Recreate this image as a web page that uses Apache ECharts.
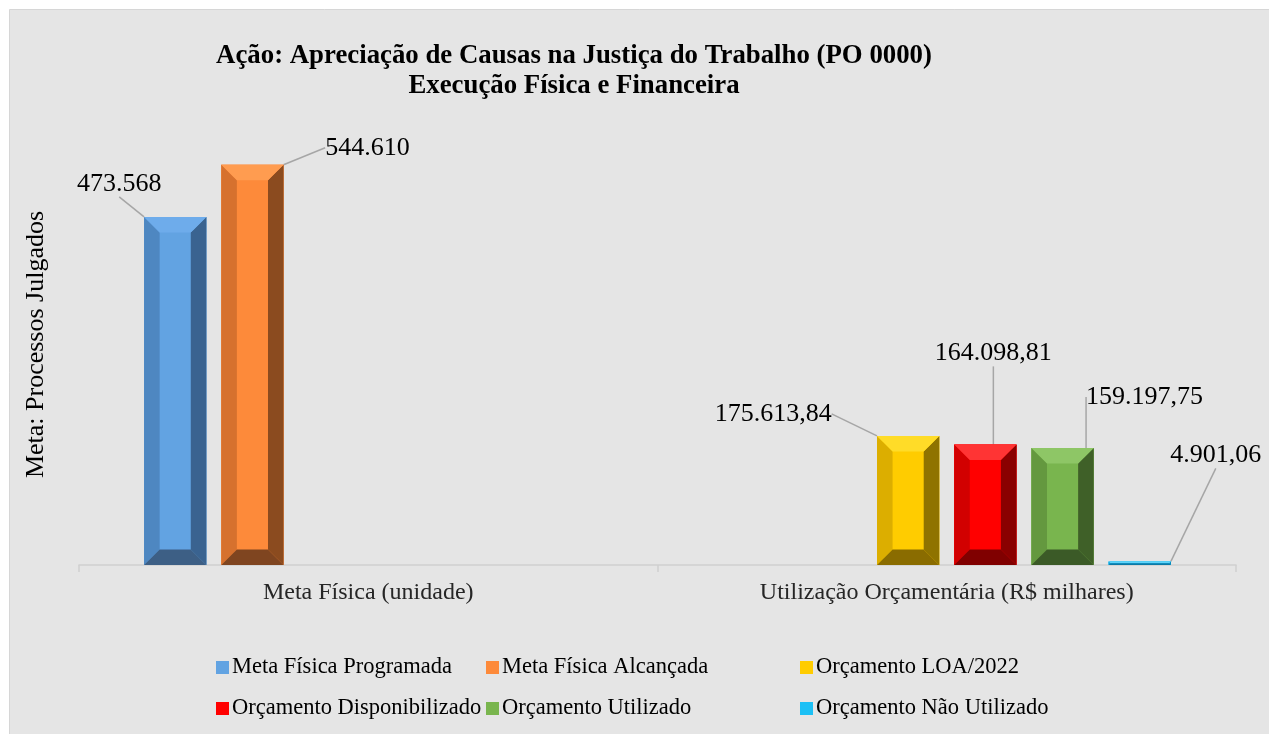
<!DOCTYPE html>
<html>
<head>
<meta charset="utf-8">
<script src="https://cdn.jsdelivr.net/npm/echarts@6/dist/echarts.min.js"></script>
<style>
  html, body { margin: 0; padding: 0; background: #fff; }
  #chart { width: 1269px; height: 734px; }
</style>
</head>
<body>
<div id="chart"></div>
<script>
// dados
const categories = ['Meta Física (unidade)', 'Utilização Orçamentária (R$ milhares)']
const seriesNames = [
  'Meta Física Programada', 'Meta Física Alcançada', 'Orçamento LOA/2022',
  'Orçamento Disponibilizado', 'Orçamento Utilizado', 'Orçamento Não Utilizado'
]
const metaProgramada = [473568, null]
const metaAlcancada = [544610, null]
const orcLoa = [null, 175613.84]
const orcDisponibilizado = [null, 164098.81]
const orcUtilizado = [null, 159197.75]
const orcNaoUtilizado = [null, 4901.06]
const seriesValues = [metaProgramada, metaAlcancada, orcLoa, orcDisponibilizado, orcUtilizado, orcNaoUtilizado]
const decimals = [0, 0, 2, 2, 2, 2]

// cores do bisel: [frente, esquerda, direita, topo, base]
const colors = [
  ['#62a3e2', '#4e87c1', '#3a6390', '#6eaceb', '#3d5f85'],
  ['#fd8a3a', '#d6712e', '#8b4b1f', '#ff9c50', '#7f4520'],
  ['#ffcc00', '#dcae00', '#8f7300', '#ffdc28', '#8a6c00'],
  ['#ff0000', '#d20000', '#8a0000', '#ff3434', '#800000'],
  ['#79b54e', '#64983f', '#3f6028', '#8ec666', '#3b5a27'],
  ['#1cc0f5', '#0a9fd8', '#0a86b8', '#5fd4fa', '#0a7aa8']
]
// deslocamento dos rótulos (linhas de chamada)
const labelOffsets = [[-56, -15], [115, 1], [-135, -4], [8, -73], [82, -33], [76, -88]]

const CAT_GAP = 0.225
const BAR_GAP = 0.24

const serif = '"Liberation Serif", "DejaVu Serif", serif'

const fmt = (v, dec) => {
  const parts = v.toFixed(dec).split('.')
  const intPart = parts[0].replace(/\B(?=(\d{3})+(?!\d))/g, '.')
  return dec ? intPart + ',' + parts[1] : intPart
}

// pontos do bisel para cada barra
const bevelData = []
seriesValues.forEach((vals, s) => {
  vals.forEach((v, c) => {
    if (v != null) bevelData.push([c, v, s])
  })
})

const renderBevel = (params, api) => {
  const c = api.value(0)
  const s = api.value(2)
  const top = api.coord([c, api.value(1)])
  const base = api.coord([c, 0])
  const band = api.size([1, 0])[0]
  const n = seriesNames.length
  const w = band * (1 - CAT_GAP) / (n + (n - 1) * BAR_GAP)
  const total = n * w + (n - 1) * w * BAR_GAP
  const x0 = top[0] - total / 2 + s * w * (1 + BAR_GAP)
  const x1 = x0 + w
  const y0 = top[1]
  const yb = base[1]
  const b = Math.min(w * 0.25, (yb - y0) / 2)
  const col = colors[s]
  const poly = (pts, fill) => ({type: 'polygon', shape: {points: pts}, style: {fill: fill}})
  return {
    type: 'group',
    children: [
      poly([[x0, y0], [x1, y0], [x1, yb], [x0, yb]], col[0]),
      poly([[x0, y0], [x0 + b, y0 + b], [x0 + b, yb - b], [x0, yb]], col[1]),
      poly([[x1, y0], [x1 - b, y0 + b], [x1 - b, yb - b], [x1, yb]], col[2]),
      poly([[x0, y0], [x1, y0], [x1 - b, y0 + b], [x0 + b, y0 + b]], col[3]),
      poly([[x0, yb], [x1, yb], [x1 - b, yb - b], [x0 + b, yb - b]], col[4])
    ]
  }
}

const chart = echarts.init(document.getElementById('chart'))

const legendPos = [[216, 656], [486, 656], [800, 656], [216, 697], [486, 697], [800, 697]]

const option = {
  backgroundColor: '#fff',
  animation: false,
  graphic: [{
    type: 'rect', z: -100, silent: true,
    shape: {x: 9.5, y: 9.5, width: 1280, height: 740},
    style: {fill: '#e5e5e5', stroke: '#d6d6d6', lineWidth: 1}
  }],
  title: {
    text: 'Ação: Apreciação de Causas na Justiça do Trabalho (PO 0000)\nExecução Física e Financeira',
    left: 569, top: 36, textAlign: 'center',
    textStyle: {fontFamily: serif, fontWeight: 'bold', fontSize: 26.8, lineHeight: 30, color: '#000'}
  },
  legend: seriesNames.map((n, i) => ({
    data: [n],
    left: legendPos[i][0], top: legendPos[i][1],
    padding: 0,
    itemWidth: 13, itemHeight: 13, itemGap: 0,
    icon: 'rect',
    textStyle: {fontFamily: serif, fontSize: 22.5, color: '#000', padding: [0, 0, 0, -2]},
    selectedMode: false
  })),
  grid: {left: 79, right: 33, top: 124, bottom: 169},
  xAxis: {
    type: 'category',
    data: categories,
    axisLine: {lineStyle: {color: '#cfcfcf', width: 1.5}},
    axisTick: {show: true, length: 7, lineStyle: {color: '#cfcfcf', width: 1.5}},
    axisLabel: {fontFamily: serif, fontSize: 24, color: '#262626', margin: 16}
  },
  yAxis: {
    type: 'value', min: 0, max: 600000,
    name: 'Meta: Processos Julgados',
    nameLocation: 'middle', nameGap: 30, nameRotate: 90,
    nameTextStyle: {fontFamily: serif, fontSize: 26, color: '#000'},
    axisLine: {show: false}, axisTick: {show: false},
    axisLabel: {show: false}, splitLine: {show: false}
  },
  series: seriesNames.map((n, i) => ({
    name: n,
    type: 'bar',
    data: seriesValues[i],
    barCategoryGap: (CAT_GAP * 100) + '%',
    barGap: (BAR_GAP * 100) + '%',
    itemStyle: {color: colors[i][0]},
    label: {
      show: true, position: 'top', distance: 5,
      fontFamily: serif, fontSize: 26, color: '#000',
      formatter: p => p.value == null ? '' : fmt(p.value, decimals[i])
    },
    labelLine: {show: true, lineStyle: {color: '#a6a6a6', width: 1.5}},
    labelLayout: () => ({dx: labelOffsets[i][0], dy: labelOffsets[i][1]})
  })).concat([{
    name: 'bisel',
    type: 'custom',
    silent: true,
    z: 3,
    renderItem: renderBevel,
    data: bevelData
  }])
}

chart.setOption(option)
</script>
</body>
</html>
